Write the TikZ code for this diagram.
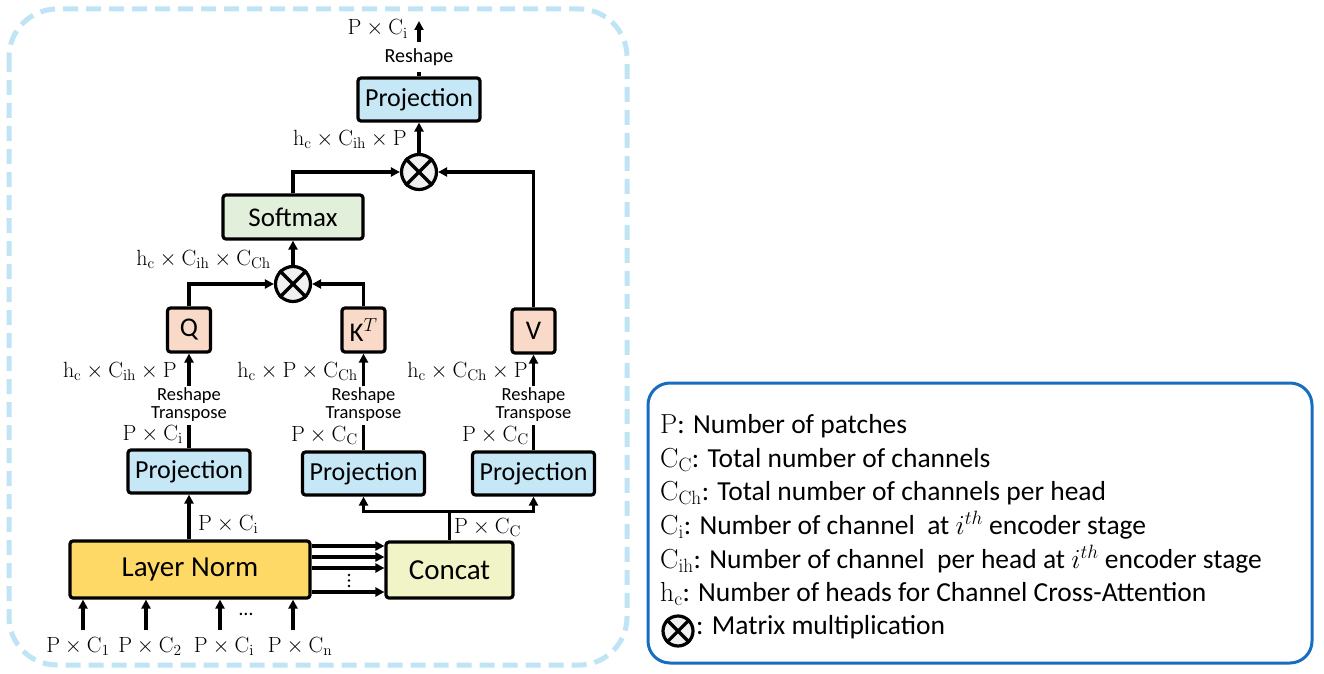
\RequirePackage{fix-cm}
\documentclass[tikz,border=0pt]{standalone}
\usepackage[no-math]{fontspec}
\setmainfont{Carlito}
\usetikzlibrary{arrows.meta,calc}
\definecolor{dashblue}{RGB}{190,228,245}
\definecolor{projblue}{RGB}{197,231,246}
\definecolor{smgreen}{RGB}{226,239,218}
\definecolor{qkvpeach}{RGB}{249,218,200}
\definecolor{lngold}{RGB}{255,217,102}
\definecolor{ccyellow}{RGB}{241,244,198}
\definecolor{otgray}{RGB}{240,240,240}
\definecolor{legblue}{RGB}{23,109,192}
\tikzset{
  box/.style={draw, line width=3.2pt, rounded corners=3pt, inner sep=0pt, align=center},
  projbox/.style={box, fill=projblue, minimum width=122pt, minimum height=43pt, font=\fontsize{26}{30}\selectfont},
  smbox/.style={box, fill=smgreen, minimum width=140pt, minimum height=44pt, font=\fontsize{27}{30}\selectfont},
  qkvbox/.style={box, fill=qkvpeach, minimum width=43pt, minimum height=44pt, font=\fontsize{27}{30}\selectfont},
  lnbox/.style={box, fill=lngold, minimum width=240pt, minimum height=57pt, font=\fontsize{29}{32}\selectfont},
  ccbox/.style={box, fill=ccyellow, minimum width=127pt, minimum height=56pt, font=\fontsize{29}{32}\selectfont},
  otimes/.style={circle, draw, line width=3.2pt, fill=otgray, minimum size=35pt, inner sep=0pt},
  arr/.style={line width=3.2pt, -{Triangle[length=9pt,width=9pt]}},
  conn/.style={line width=3.2pt},
  dimlbl/.style={inner sep=0pt, font=\fontsize{22}{24}\selectfont},
  oplbl/.style={inner sep=0pt, font=\fontsize{18.5}{19}\selectfont},
  legtxt/.style={inner sep=0pt, anchor=base west, font=\fontsize{27.5}{33}\selectfont},
}
\newcommand\dm[1]{\ensuremath{\mathrm{#1}}}
\newcommand\otcross[1]{\draw[line width=3.2pt] (#1.north west) -- (#1.south east) (#1.north east) -- (#1.south west);}
\begin{document}
\begin{tikzpicture}[x=1pt,y=-1pt]
\useasboundingbox (0,0) rectangle (1324,674);
% outer dashed frame
\draw[dashblue, line width=5pt, dash pattern=on 15pt off 8pt, rounded corners=48pt] (9,9) rectangle (627,665);

% nodes
\node[projbox] (projT) at (419,99.5) {Projection};
\node[otimes] (m1) at (419,172) {};
\node[smbox] (soft) at (293,217) {Softmax};
\node[otimes] (m2) at (293,284) {};
\node[qkvbox] (Q) at (189,330) {Q};
\node[qkvbox] (K) at (363.5,330) {K$^{T}$};
\node[qkvbox] (V) at (533.5,331) {V};
\node[projbox] (p1) at (189,471.5) {Projection};
\node[projbox] (p2) at (363.5,473.5) {Projection};
\node[projbox] (p3) at (533.5,473.5) {Projection};
\node[lnbox] (LN) at (190,569.5) {Layer Norm};
\node[ccbox] (CC) at (449.5,570) {Concat};
\otcross{m1}
\otcross{m2}

% output at top
\coordinate (out) at (419,21);
\draw[arr] (projT.north) -- (out);
\node[oplbl, fill=white, inner xsep=1pt, inner ysep=6pt, font=\fontsize{20}{20}\selectfont] (rsT) at (419,57) {Reshape};
\node[dimlbl, anchor=base east] (lblOut) at (408,35) {\dm{P\times C_{i}}};

% attention connectors
\draw[arr] (m1) -- (projT);
\node[dimlbl, anchor=base east] (lblM1) at (407,145) {\dm{h_{c}\times C_{ih}\times P}};
\draw[arr] (soft.north) |- (m1.west);
\draw[arr] (V.north) |- (m1.east);
\draw[arr] (m2) -- (soft);
\node[dimlbl, anchor=base east] (lblM2) at (271,265) {\dm{h_{c}\times C_{ih}\times C_{Ch}}};
\draw[arr] (Q.north) |- (m2.west);
\draw[arr] (K.north) |- (m2.east);

% projection to Q K V
\draw[arr] (p1.north) -- (Q.south);
\draw[arr] (p2.north) -- (K.south);
\draw[arr] (p3.north) -- (V.south);
\foreach \n/\xx in {1/189,2/363.5,3/533.5}{
  \fill[white] (\xx-8,386) rectangle (\xx+8,425);
  \node[oplbl, anchor=base] (rsa\n) at (\xx,400.5) {Reshape};
  \node[oplbl, anchor=base] (rsb\n) at (\xx,418) {Transpose};
}
\node[dimlbl, anchor=base east] (lq) at (177,377) {\dm{h_{c}\times C_{ih}\times P}};
\node[dimlbl, anchor=base east] (lk) at (358,377) {\dm{h_{c}\times P\times C_{Ch}}};
\node[dimlbl, anchor=base east] (lv) at (528,377) {\dm{h_{c}\times C_{Ch}\times P}};
\node[dimlbl, anchor=base east] (lp1) at (183,440) {\dm{P\times C_{i}}};
\node[dimlbl, anchor=base east] (lp2) at (358,441) {\dm{P\times C_{C}}};
\node[dimlbl, anchor=base east] (lp3) at (529,441) {\dm{P\times C_{C}}};

% layer norm to projection
\draw[arr] (LN.north -| p1) -- (p1.south);
\node[dimlbl, anchor=base west] (lln) at (198,530) {\dm{P\times C_{i}}};

% concat to projections
\draw[conn] (CC.north) -- ++(0,-29) coordinate (cj);
\draw[arr] (cj) -| (p2.south);
\draw[arr] (cj) -| (p3.south);
\node[dimlbl, anchor=base west] (lcc) at (454,533) {\dm{P\times C_{C}}};

% layer norm to concat
\foreach \yy in {546,557,568,592}{
  \draw[arr] (LN.east |- 0,\yy) -- (CC.west |- 0,\yy);
}
\foreach \yy in {575,580.5,586}{
  \fill (349,\yy) circle (1.4pt);
}

% inputs
\coordinate (a1) at (83,630);
\coordinate (a2) at (146,630);
\coordinate (a3) at (220,630);
\coordinate (a4) at (293,630);
\foreach \a in {a1,a2,a3,a4}{
  \draw[arr] (\a) -- (\a |- LN.south);
}
\node[dimlbl, anchor=base] (in1) at (78,652) {\dm{P\times C_{1}}};
\node[dimlbl, anchor=base] (in2) at (150,652) {\dm{P\times C_{2}}};
\node[dimlbl, anchor=base] (in3) at (224,652) {\dm{P\times C_{i}}};
\node[dimlbl, anchor=base] (in4) at (300,652) {\dm{P\times C_{n}}};
\node[inner sep=0pt, font=\fontsize{20}{24}\selectfont] (dots) at (246,614) {…};

% legend
\draw[legblue, line width=3pt, rounded corners=22pt] (648,383) rectangle (1312,663);
\node[legtxt] (l1) at (660,433) {\dm{P}: Number of patches};
\node[legtxt] (l2) at (660,467) {\dm{C_{C}}: Total number of channels};
\node[legtxt] (l3) at (660,500) {\dm{C_{Ch}}: Total number of channels per head};
\node[legtxt] (l4) at (660,534) {\dm{C_{i}}: Number of channel\ \ at $i^{th}$ encoder stage};
\node[legtxt] (l5) at (660,568) {\dm{C_{ih}}: Number of channel\ \ per head at $i^{th}$ encoder stage};
\node[legtxt] (l6) at (660,601) {\dm{h_{c}}: Number of heads for Channel Cross-Attention};
\node[otimes, minimum size=30pt] (lm) at (678,631) {};
\otcross{lm}
\node[legtxt] (l7) at (696,634) {: Matrix multiplication};
\end{tikzpicture}
\end{document}
